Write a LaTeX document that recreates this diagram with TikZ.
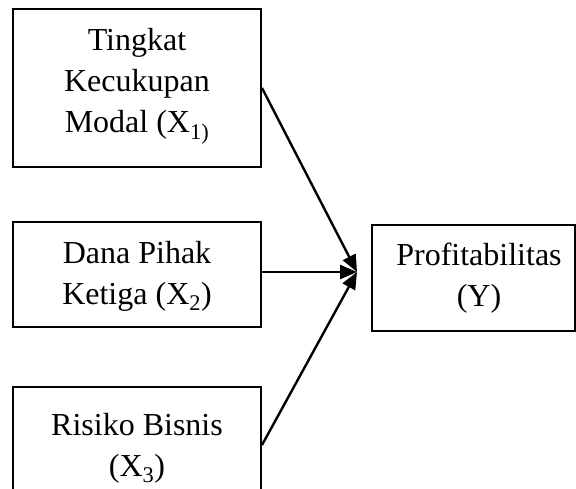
\documentclass[tikz,border=0pt]{standalone}
\usepackage{fontspec}
\setmainfont{Liberation Serif}
\usetikzlibrary{arrows.meta}
\begin{document}
\begin{tikzpicture}[x=1pt,y=-1pt,
  boxstyle/.style={draw,line width=2pt,inner sep=0pt},
  txt/.style={align=center,inner sep=0pt,font=\fontsize{32}{41}\selectfont},
  conn/.style={line width=2.4pt,-{Triangle[length=17pt,width=14pt]}}]
\useasboundingbox (0,0) rectangle (576,489);
\node[boxstyle,minimum width=248pt,minimum height=158pt] (x1) at (137,88) {};
\node[txt] (x1t) at (137,86) {Tingkat\\Kecukupan\\Modal (X\textsubscript{1)}};
\node[boxstyle,minimum width=248pt,minimum height=105pt] (x2) at (137,274.5) {};
\node[txt] (x2t) at (137,276) {Dana Pihak\\Ketiga (X\textsubscript{2})};
\node[boxstyle,minimum width=248pt,minimum height=116pt] (x3) at (137,445) {};
\node[txt] (x3t) at (137,448) {Risiko Bisnis\\(X\textsubscript{3})};
\node[boxstyle,minimum width=203pt,minimum height=106pt] (y) at (473.5,278) {};
\node[txt] (yt) at (479,278) {Profitabilitas\\(Y)};
\coordinate (tip) at (357,272);
\draw[conn] (x1.east) -- (tip);
\draw[conn] (x2.east |- tip) -- (tip);
\draw[conn] (x3.east) -- (tip);
\end{tikzpicture}
\end{document}
